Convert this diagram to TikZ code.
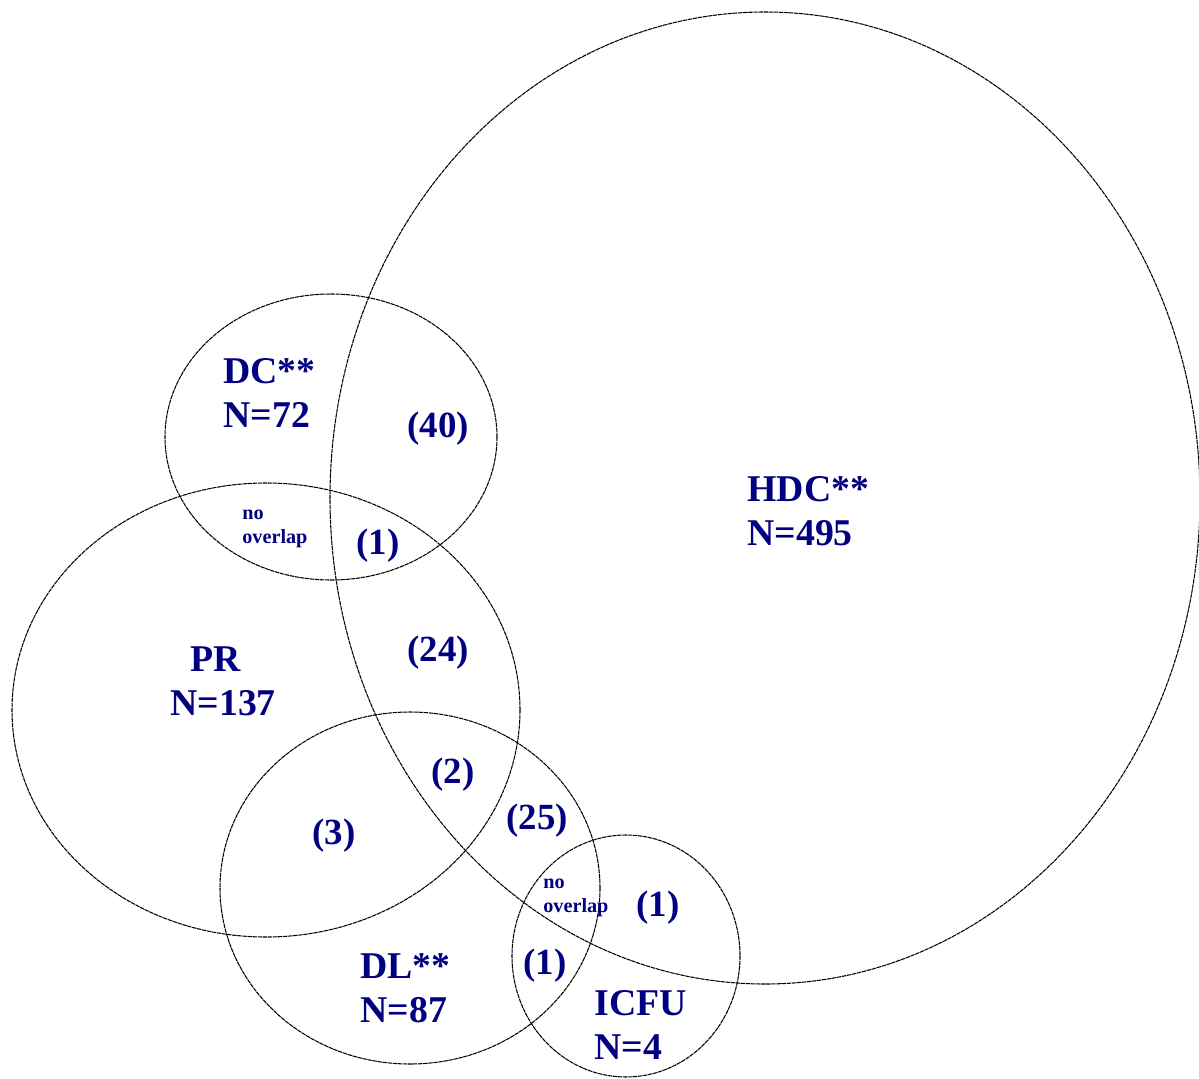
\documentclass[tikz,border=0pt]{standalone}
\usepackage{fontspec}
\setmainfont{Liberation Serif}
\definecolor{labnavy}{RGB}{0,0,128}
\begin{document}
\begin{tikzpicture}[x=0.02cm,y=-0.02cm,
    setline/.style={line width=0.6pt,black,dash pattern=on 2.5pt off 0.4pt},
    lab/.style={text=labnavy,font=\fontsize{21.5}{25}\selectfont\bfseries,inner sep=0pt,anchor=west,align=left},
    cnt/.style={text=labnavy,font=\fontsize{21}{24}\selectfont\bfseries,inner sep=0pt},
    tiny/.style={text=labnavy,font=\fontsize{11.5}{14}\selectfont\bfseries,inner sep=0pt,anchor=west,align=left}]
  \useasboundingbox (0,0) rectangle (1199,1078);
  % sets
  \draw [setline] (765,498) ellipse [x radius=435, y radius=486];
  \draw [setline] (331,437) ellipse [x radius=166, y radius=143];
  \draw [setline] (266,710) ellipse [x radius=254, y radius=227];
  \draw [setline] (410,888) ellipse [x radius=190, y radius=176];
  \draw [setline] (626,956) ellipse [x radius=114, y radius=121];
  % set labels
  \node [lab] (dc)   at (223,393)  {DC**\\N=72};
  \node [lab] (hdc)  at (747,511)  {HDC**\\N=495};
  \node [lab] (pr)   at (170,681)  {\hspace{0.4cm}PR\\N=137};
  \node [lab] (dl)   at (360,988)  {DL**\\N=87};
  \node [lab] (icfu) at (594,1025) {ICFU\\N=4};
  % counts
  \node [cnt] (c40) at (438,429) {(40)};
  \node [cnt] (c1a) at (378,546) {(1)};
  \node [cnt] (c24) at (438,653) {(24)};
  \node [cnt] (c2)  at (453,775) {(2)};
  \node [cnt] (c3)  at (334,836) {(3)};
  \node [cnt] (c25) at (537,821) {(25)};
  \node [cnt] (c1b) at (658,908) {(1)};
  \node [cnt] (c1c) at (545,966) {(1)};
  \node [tiny] (no1) at (242,529) {no\\overlap};
  \node [tiny] (no2) at (543,898) {no\\overlap};
\end{tikzpicture}
\end{document}
